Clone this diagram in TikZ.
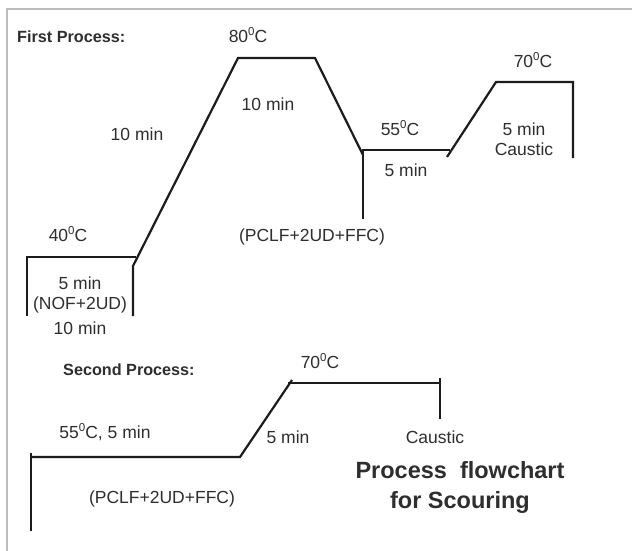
\documentclass[tikz,border=0pt]{standalone}
\usepackage{fontspec}
\setmainfont{Liberation Sans}
\newcommand{\degsup}{\raisebox{0.42em}{\fontsize{11.5}{12}\selectfont 0}}
\definecolor{txt}{HTML}{2E2E2E}
\definecolor{ink}{HTML}{1C1C1C}
\definecolor{frm}{HTML}{BDBDBD}
\begin{document}
\begin{tikzpicture}[x=1pt,y=-1pt,
  curve/.style={draw=ink, line width=2.2pt, line join=miter},
  frameline/.style={draw=frm, line width=2.6pt},
  lbl/.style={text=txt, font=\fontsize{17.5}{20.5}\selectfont, inner sep=0pt, align=center},
  hdr/.style={text=txt, font=\bfseries\fontsize{16.2}{18}\selectfont, inner sep=0pt},
  ttl/.style={text=txt, font=\bfseries\fontsize{23.5}{30}\selectfont, inner sep=0pt, align=center}]
\useasboundingbox (0,0) rectangle (632,551);
\fill[white] (0,0) rectangle (632,551);
\draw[frameline] (7,551) -- (7,9) -- (632,9);

% First process
\coordinate (a1) at (27,316);
\coordinate (a2) at (27,257);
\coordinate (a3) at (136,257);
\coordinate (b1) at (133,316);
\coordinate (b2) at (133,266);
\coordinate (b3) at (238,58);
\coordinate (b4) at (315,58);
\coordinate (b5) at (363,155);
\coordinate (c1) at (363,219);
\coordinate (c2) at (363,150);
\coordinate (c3) at (450,150);
\coordinate (d1) at (447,157);
\coordinate (d2) at (496,82);
\coordinate (d3) at (573,82);
\coordinate (d4) at (573,158);
\draw[curve] (a1) -- (a2) -- (a3);
\draw[curve] (b1) -- (b2) -- (b3) -- (b4) -- (b5);
\draw[curve] (c1) -- (c2) -- (c3);
\draw[curve] (d1) -- (d2) -- (d3) -- (d4);

\node[hdr, anchor=west] (h1) at (17,37) {First Process:};
\node[lbl] (t80) at (248,35) {80\degsup C};
\node[lbl] (m10a) at (268,104) {10 min};
\node[lbl] (m10b) at (137,134) {10 min};
\node[lbl] (t40) at (68,234) {40\degsup C};
\node[lbl] (m5a) at (80,283) {5 min};
\node[lbl] (nof) at (80,305) {(NOF+2UD)};
\node[lbl] (m10c) at (80,328) {10 min};
\node[lbl] (pclf1) at (312,237) {(PCLF+2UD+FFC)};
\node[lbl] (t55) at (400,128) {55\degsup C};
\node[lbl] (m5b) at (406,170) {5 min};
\node[lbl] (t70a) at (533,60) {70\degsup C};
\node[lbl] (m5c) at (524,139) {5 min\\Caustic};

% Second process
\coordinate (e1) at (31,531);
\coordinate (e2) at (31,453);
\coordinate (f1) at (31,457);
\coordinate (f2) at (240,457);
\coordinate (f3) at (292,380);
\coordinate (g1) at (288,383);
\coordinate (g2) at (440,383);
\coordinate (h1a) at (440,378);
\coordinate (h2a) at (440,419);
\draw[curve] (e1) -- (e2);
\draw[curve] (f1) -- (f2) -- (f3);
\draw[curve] (g1) -- (g2);
\draw[curve] (h1a) -- (h2a);

\node[hdr, anchor=west] (h2) at (63,370) {Second Process:};
\node[lbl] (t70b) at (320,361) {70\degsup C};
\node[lbl] (t55b) at (105,432) {55\degsup C, 5 min};
\node[lbl] (m5d) at (288,437) {5 min};
\node[lbl] (caus) at (435,437) {Caustic};
\node[lbl] (pclf2) at (162,499) {(PCLF+2UD+FFC)};
\node[ttl] (title) at (460,487) {Process~ flowchart\\for Scouring};
\end{tikzpicture}
\end{document}
